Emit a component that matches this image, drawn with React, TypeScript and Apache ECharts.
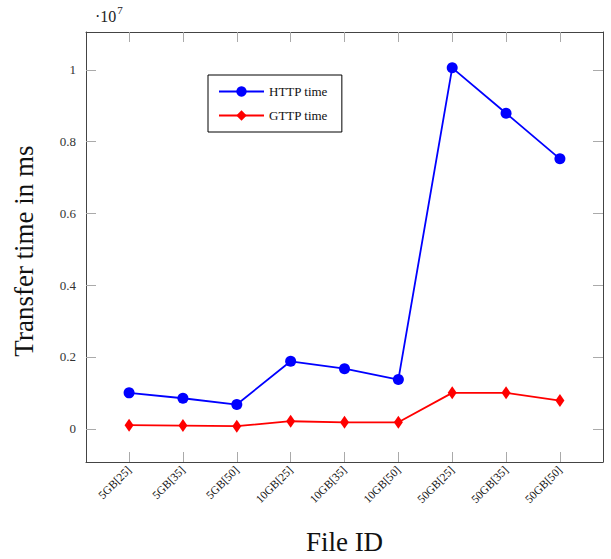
import React, { useEffect, useRef } from "react";
import * as echarts from "echarts";

const categories = ["5GB[25]", "5GB[35]", "5GB[50]", "10GB[25]", "10GB[35]", "10GB[50]", "50GB[25]", "50GB[35]", "50GB[50]"];
const httpTime = [0.1, 0.085, 0.0675, 0.188, 0.1675, 0.137, 1.0056, 0.879, 0.752];
const gttpTime = [0.01, 0.009, 0.0072, 0.021, 0.018, 0.018, 0.1, 0.1, 0.0786];
const yTicks = [0, 0.2, 0.4, 0.6, 0.8, 1];
const xTicks = categories.map((_, i) => i);

const FONT = "'Liberation Serif', 'Times New Roman', serif";

export default function App() {
  const ref = useRef<HTMLDivElement>(null);
  useEffect(() => {
    if (!ref.current) return;
    const chart = echarts.init(ref.current, null, { renderer: "svg" });
    const frame = { show: true, onZero: false, lineStyle: { color: "#444", width: 1 } };
    const tickStyle = { show: true, inside: true, length: 10, lineStyle: { color: "#aaa", width: 1 }, customValues: xTicks };
    const yTickStyle = { show: true, inside: true, length: 10, lineStyle: { color: "#aaa", width: 1 }, customValues: yTicks };
    chart.setOption({
      animation: false,
      backgroundColor: "#fff",
      grid: { left: 86, right: 8, top: 32, bottom: 97, containLabel: false },
      xAxis: [
        {
          type: "value",
          min: -0.8,
          max: 8.8,
          axisLine: frame,
          axisTick: tickStyle,
          splitLine: { show: false },
          axisLabel: {
            customValues: xTicks,
            rotate: 45,
            margin: 6,
            fontFamily: FONT,
            fontSize: 11.5,
            color: "#111",
            formatter: (v: number) => categories[Math.round(v)] ?? "",
          },
        },
        {
          type: "value",
          position: "top",
          min: -0.8,
          max: 8.8,
          axisLine: frame,
          axisTick: tickStyle,
          splitLine: { show: false },
          axisLabel: { show: false },
        },
      ],
      yAxis: [
        {
          type: "value",
          min: -0.0926,
          max: 1.1054,
          axisLine: frame,
          axisTick: yTickStyle,
          splitLine: { show: false },
          axisLabel: {
            customValues: yTicks,
            margin: 10,
            fontFamily: FONT,
            fontSize: 13,
            color: "#333",
            formatter: (v: number) => (Math.abs(v) < 1e-9 ? "0" : String(Math.round(v * 10) / 10)),
          },
        },
        {
          type: "value",
          position: "right",
          min: -0.0926,
          max: 1.1054,
          axisLine: frame,
          axisTick: yTickStyle,
          splitLine: { show: false },
          axisLabel: { show: false },
        },
      ],
      legend: {
        orient: "vertical",
        left: 208,
        top: 75,
        backgroundColor: "#fff",
        borderColor: "#000",
        borderWidth: 1,
        borderRadius: 0,
        padding: [10, 14, 10, 10],
        itemGap: 11,
        itemWidth: 45,
        itemHeight: 13,
        textStyle: { fontFamily: FONT, fontSize: 13, color: "#111" },
        data: ["HTTP time", "GTTP time"],
      },
      series: [
        {
          name: "HTTP time",
          type: "line",
          data: httpTime.map((v, i) => [i, v]),
          symbol: "circle",
          symbolSize: 11,
          lineStyle: { color: "#0000ff", width: 1.8 },
          itemStyle: { color: "#0000ff" },
        },
        {
          name: "GTTP time",
          type: "line",
          data: gttpTime.map((v, i) => [i, v]),
          symbol: "diamond",
          symbolSize: [9, 13],
          lineStyle: { color: "#ff0000", width: 1.8 },
          itemStyle: { color: "#ff0000" },
        },
      ],
      graphic: [
        {
          type: "text",
          x: 24,
          y: 251,
          rotation: Math.PI / 2,
          style: {
            text: "Transfer time in ms",
            fontFamily: FONT,
            fontSize: 27,
            fill: "#111",
            align: "center",
            verticalAlign: "middle",
          },
        },
        {
          type: "text",
          x: 344.5,
          y: 542,
          style: {
            text: "File ID",
            fontFamily: FONT,
            fontSize: 27,
            fill: "#111",
            align: "center",
            verticalAlign: "middle",
          },
        },
        {
          type: "text",
          x: 95,
          y: 4,
          style: {
            text: "{a|·10}{b|7}",
            rich: {
              a: { fontFamily: FONT, fontSize: 16, fill: "#222", verticalAlign: "bottom", lineHeight: 20 },
              b: { fontFamily: FONT, fontSize: 11, fill: "#222", verticalAlign: "top", padding: [0, 0, 8, 1], lineHeight: 20 },
            },
          },
        },
      ],
    });
    return () => chart.dispose();
  }, []);
  return <div ref={ref} style={{ position: "absolute", left: 0, top: 0, width: 611, height: 559 }} />;
}
